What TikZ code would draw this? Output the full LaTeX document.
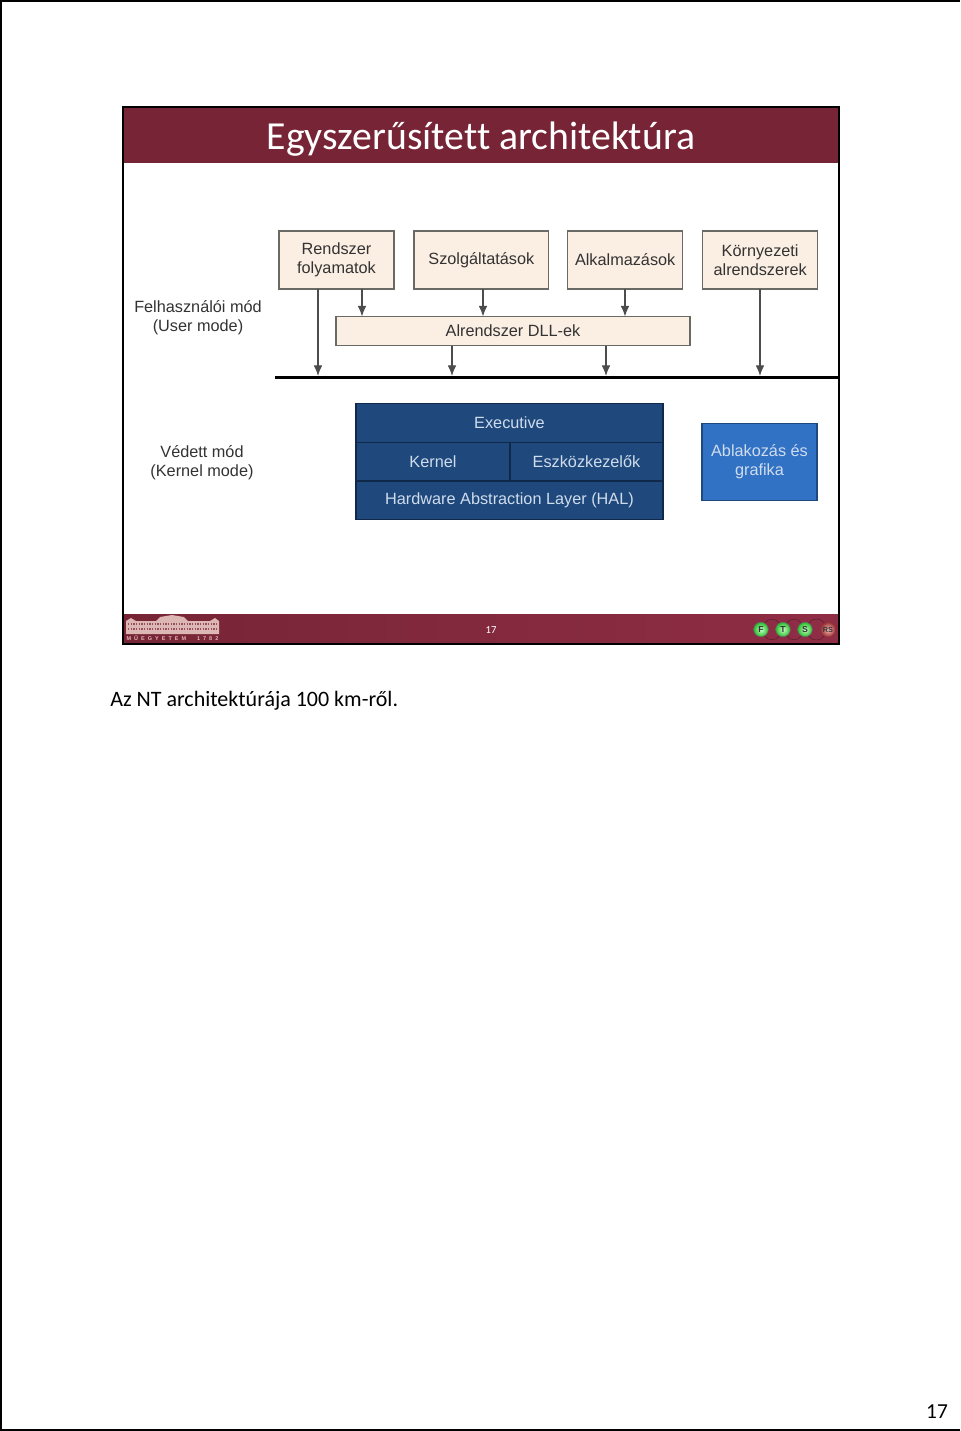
\documentclass[tikz,border=0pt]{standalone}
\usepackage{fontspec}
\setmainfont{Liberation Sans}
\newfontfamily\slidefont[Ligatures=NoCommon]{Carlito}
\usepackage{xcolor}
\usetikzlibrary{positioning,arrows.meta,calc}
\definecolor{slidered}{HTML}{772536}
\definecolor{footred}{HTML}{8F2D45}
\definecolor{boxcream}{HTML}{FBEEE3}
\definecolor{boxedge}{HTML}{6A6A64}
\definecolor{navyblock}{HTML}{1F487C}
\definecolor{navyedge}{HTML}{10284A}
\definecolor{midblue}{HTML}{3272C4}
\definecolor{palelabel}{HTML}{CFDCEC}
\definecolor{building}{HTML}{DDB7B4}

\begin{document}
\begin{tikzpicture}[
    x=0.75pt, y=-0.75pt,
    node distance=15pt and 15pt,
    usermode/.style={draw=boxedge, line width=1pt, fill=boxcream, minimum height=43.5pt,
                align=center, inner sep=0pt, outer sep=0pt, text=black!80,
                font=\fontsize{12.2}{14.5}\selectfont},
    small/.style={usermode, minimum width=86.25pt},
    kernelbox/.style={draw=navyedge, line width=0.8pt, fill=navyblock, minimum height=29pt,
                inner sep=0pt, outer sep=0pt, text=palelabel,
                font=\fontsize{12.2}{14.5}\selectfont},
    modelabel/.style={align=center, text=black!80, font=\fontsize{12.2}{14.5}\selectfont},
    arr/.style={-{Latex[length=8pt,width=6.5pt]}, line width=0.9pt, draw=black!70},
    ftsball/.style={circle, draw=black!60, line width=0.5pt, minimum size=11pt, inner sep=0pt,
                inner color=green!20!white, outer color=green!70!black!85!white, text=black!80,
                font=\fontsize{6.5}{6.5}\selectfont\bfseries},
    ftsarc/.style={line width=0.3pt, draw=black!30!slidered},
  ]
  \useasboundingbox (0,0) rectangle (960,1431);
  \fill[white] (0,0) rectangle (960,1431);
  % page edge, no line on the right
  \draw[line width=1.2pt] (960,1430) -- (1,1430) -- (1,1) -- (960,1);

  % slide frame with title and footer bands
  \fill[slidered] (123,107) rectangle (839,163);
  \shade[left color=slidered, right color=footred] (123,614) rectangle (839,644);
  \draw[line width=1.5pt] (123,107) rectangle (839,644);
  \node[text=white, font=\slidefont\fontsize{29.8}{32}\selectfont] (title) at (481,139) {Egyszerűsített architektúra};

  % user mode boxes (top row)
  \node[small] (rendszer) at (336.5,260) {Rendszer\\folyamatok};
  \node[usermode, minimum width=101pt, right=of rendszer] (szolg) {Szolgáltatások};
  \node[small, right=14.25pt of szolg] (alk) {Alkalmazások};
  \node[small, right=of alk] (korny) {Környezeti\\alrendszerek};
  \node[usermode, minimum width=265.5pt, minimum height=21.75pt] (dll) at (513,331) {Alrendszer DLL-ek};
  \node[draw=black, fill=black, minimum width=422pt, minimum height=1.5pt, inner sep=0pt, outer sep=0pt] (bus) at (556.5,377) {};

  % kernel block
  \node[kernelbox, minimum width=230.25pt] (exec) at (509.5,423) {Executive};
  \node[kernelbox, minimum width=115.5pt, below=0pt of exec.south west, anchor=north west] (kernel) {Kernel};
  \node[kernelbox, minimum width=114.75pt, right=0pt of kernel] (eszk) {Eszközkezelők};
  \node[kernelbox, minimum width=230.25pt, below=0pt of exec.south, yshift=-29pt, anchor=north] (hal) {Hardware Abstraction Layer (HAL)};
  \node[kernelbox, fill=midblue, draw=navyblock, minimum width=86.25pt, minimum height=58pt, align=center,
        text=palelabel] (ablak) at (759.5,462) {Ablakozás és\\grafika};

  % mode labels
  \node[modelabel] (felh) at (198,318) {Felhasználói mód\\(User mode)};
  \node[modelabel] (vedett) at (202,462.5) {Védett mód\\(Kernel mode)};

  % arrows
  \draw[arr] (318,0 |- rendszer.south) -- (318,0 |- bus.north);
  \draw[arr] (362,0 |- rendszer.south) -- (362,0 |- dll.north);
  \draw[arr] (483,0 |- szolg.south) -- (483,0 |- dll.north);
  \draw[arr] (625,0 |- alk.south) -- (625,0 |- dll.north);
  \draw[arr] (452,0 |- dll.south) -- (452,0 |- bus.north);
  \draw[arr] (606,0 |- dll.south) -- (606,0 |- bus.north);
  \draw[arr] (760,0 |- korny.south) -- (760,0 |- bus.north);

  % footer: building, page number, FTS logo
  \fill[building] (126,634) -- (126,621) -- (131,618) -- (136,621) -- (156,621) -- (160,617) -- (172,615) -- (184,617) -- (188,621)
     -- (210,621) -- (215,618) -- (219,621) -- (219,634) -- cycle;
  \foreach \winy in {624,629}
    \draw[slidered!70!building, line width=1.2pt, dash pattern=on 1pt off 1pt] (128,\winy) -- (217,\winy);
  \node[text=building, font=\fontsize{4.1}{5}\selectfont\bfseries] (muegyetem) at (172.5,638.5) {M\ \ Ű\ \ E\ \ G\ \ Y\ \ E\ \ T\ \ E\ \ M\quad\quad 1\ \ 7\ \ 8\ \ 2};
  \node[text=white, font=\slidefont\fontsize{8}{9}\selectfont] (slidenum) at (491,630.5) {17};
  \node[ftsball] (fball) at (761,629.5) {F};
  \node[ftsball] (tball) at (783,629.5) {T};
  \node[ftsball] (sball) at (805,629.5) {S};
  \node[ftsball, draw=none, inner color=red!25!white, outer color=red!50!black!80!white, font=\fontsize{5.5}{5.5}\selectfont\bfseries] (rsball) at (828,629.5) {RS};
  \draw[ftsarc] (fball) to[bend left=60] (tball);
  \draw[ftsarc] (tball) to[bend left=60] (sball);
  \draw[ftsarc] (sball) to[bend left=60] (rsball);
  \draw[ftsarc] (fball) to[bend right=60] (tball);
  \draw[ftsarc] (tball) to[bend right=60] (sball);
  \draw[ftsarc] (sball) to[bend right=60] (rsball);

  % page text
  \node[anchor=west, inner sep=0pt, font=\slidefont\fontsize{16.5}{18}\selectfont] (caption) at (110,701) {Az NT architektúrája 100 km-ről.};
  \node[inner sep=0pt, font=\slidefont\fontsize{16}{18}\selectfont] (pagenum) at (937,1412) {17};
\end{tikzpicture}
\end{document}
